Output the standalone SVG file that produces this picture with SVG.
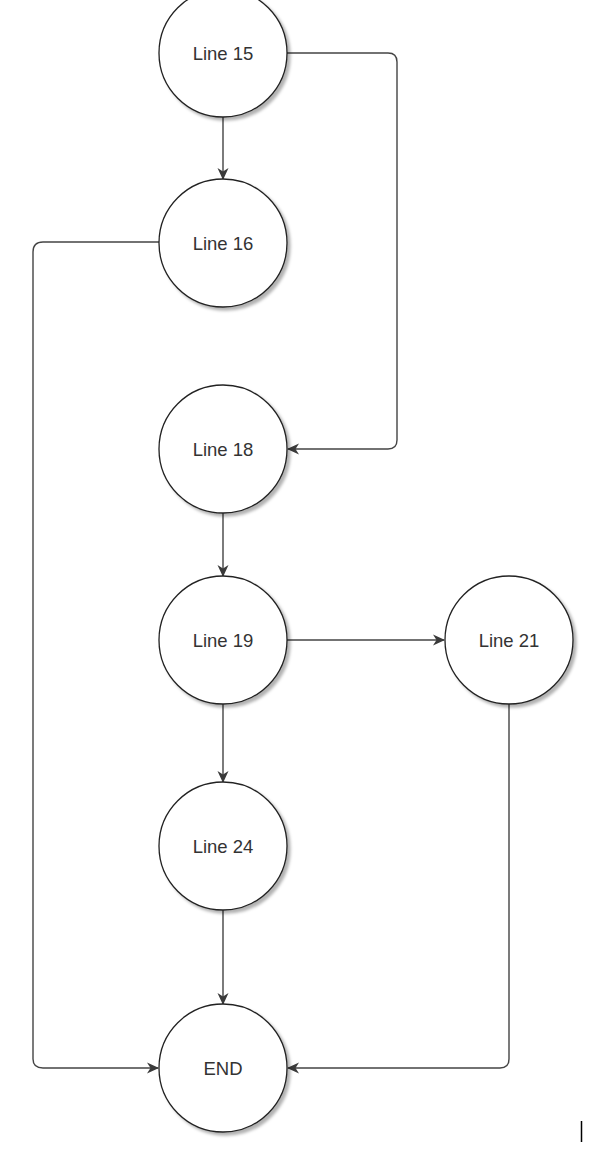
<svg xmlns="http://www.w3.org/2000/svg" width="594" height="1162" viewBox="0 0 594 1162">
<defs>
<filter id="sh" x="-20%" y="-20%" width="150%" height="150%">
<feDropShadow dx="3" dy="3" stdDeviation="1.5" flood-color="#000" flood-opacity="0.3"/>
</filter>
<marker id="arr" markerWidth="14" markerHeight="12" refX="11" refY="6" orient="auto" markerUnits="userSpaceOnUse">
<path d="M0,0.5 L12,6 L0,11.5 L3.5,6 Z" fill="#3a3a3a"/>
</marker>
</defs>
<style>
.node circle{fill:#fff;stroke:#222;stroke-width:1.3;filter:url(#sh)}
.node text{font-family:"Liberation Sans",Arial,sans-serif;font-size:18.5px;fill:#333;text-anchor:middle;dominant-baseline:central}
.edge{fill:none;stroke:#444;stroke-width:1.4;marker-end:url(#arr)}
</style>
<rect width="594" height="1162" fill="#fff"/>
<g id="connectors">
<path class="edge" d="M223,117 L223,179"/>
<path class="edge" d="M287,53 L388,53 Q397,53 397,62 L397,440 Q397,449 388,449 L288,449"/>
<path class="edge" d="M159,242 L43,242 Q33,242 33,252 L33,1059 Q33,1068 43,1068 L158,1068"/>
<path class="edge" d="M223,513 L223,576"/>
<path class="edge" d="M287,640 L444,640"/>
<path class="edge" d="M223,704 L223,782"/>
<path class="edge" d="M223,910 L223,1004"/>
<path class="edge" d="M509,704 L509,1059 Q509,1068 500,1068 L288,1068"/>
</g>
<g id="n15" class="node"><circle cx="223" cy="53" r="64"/><text x="223" y="53">Line 15</text></g>
<g id="n16" class="node"><circle cx="223" cy="243" r="64"/><text x="223" y="243">Line 16</text></g>
<g id="n18" class="node"><circle cx="223" cy="449" r="64"/><text x="223" y="449">Line 18</text></g>
<g id="n19" class="node"><circle cx="223" cy="640" r="64"/><text x="223" y="640">Line 19</text></g>
<g id="n21" class="node"><circle cx="509" cy="640" r="64"/><text x="509" y="640">Line 21</text></g>
<g id="n24" class="node"><circle cx="223" cy="846" r="64"/><text x="223" y="846">Line 24</text></g>
<g id="nEnd" class="node"><circle cx="223" cy="1068" r="64"/><text x="223" y="1068">END</text></g>
<line x1="581.5" y1="1121" x2="581.5" y2="1142" stroke="#000" stroke-width="1.5"/>
</svg>
